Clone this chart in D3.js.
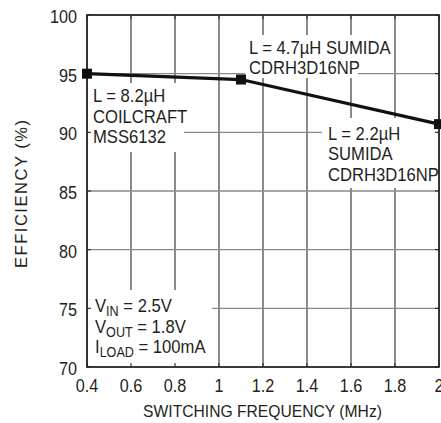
<!DOCTYPE html>
<html>
<head>
<meta charset="utf-8">
<script src="https://cdn.jsdelivr.net/npm/d3@7"></script>
<style>
  html, body { margin: 0; padding: 0; background: #fff; }
  svg { display: block; }
  text { font-family: "Liberation Sans", Arial, sans-serif; fill: #231f20; }
</style>
</head>
<body>
<div id="chart"></div>
<script>
// ---- data ----
const frequencies = [0.4, 1.1, 2.0];          // MHz
const efficiencies = [95.0, 94.5, 90.7];      // %
const xTickValues = [0.4, 0.6, 0.8, 1.0, 1.2, 1.4, 1.6, 1.8, 2.0];
const xTickLabels = ["0.4", "0.6", "0.8", "1", "1.2", "1.4", "1.6", "1.8", "2"];
const yTickValues = [70, 75, 80, 85, 90, 95, 100];
const yTickLabels = ["70", "75", "80", "85", "90", "95", "100"];
const xTitle = "SWITCHING FREQUENCY (MHz)";
const yTitle = "EFFICIENCY (%)";

// ---- layout ----
const W = 441, H = 423;
const L = 87, R = 439, T = 15, B = 367;
const SX = 0.9; // horizontal condensing of the font

const svg = d3.select("#chart").append("svg").attr("width", W).attr("height", H);
const x = d3.scaleLinear().domain([0.4, 2.0]).range([L, R]);
const y = d3.scaleLinear().domain([70, 100]).range([B, T]);

function stext(parent, px, py, str, size, anchor) {
  return parent.append("text")
    .attr("transform", `translate(${px},${py}) scale(${SX},1)`)
    .attr("font-size", size)
    .attr("text-anchor", anchor || "start")
    .text(str);
}

// grid
const grid = svg.append("g");
grid.selectAll("line.v").data(xTickValues).join("line")
  .attr("x1", d => x(d)).attr("x2", d => x(d)).attr("y1", T).attr("y2", B)
  .attr("stroke", "#2b2b2b").attr("stroke-width", 1.1);
grid.selectAll("line.h").data(yTickValues).join("line")
  .attr("x1", L).attr("x2", R).attr("y1", d => y(d)).attr("y2", d => y(d))
  .attr("stroke", "#8a8a8a").attr("stroke-width", 1.3);

// white knockout boxes behind annotations
const boxes = [
  [89, 83, 184, 152],
  [245, 35, 358, 78],
  [322, 118, 437, 188],
  [89, 290, 212, 366]
];
svg.append("g").selectAll("rect").data(boxes).join("rect")
  .attr("x", d => d[0]).attr("y", d => d[1])
  .attr("width", d => d[2] - d[0]).attr("height", d => d[3] - d[1])
  .attr("fill", "#fff");

// inner ticks on all sides
const tk = svg.append("g").attr("stroke", "#2b2b2b").attr("stroke-width", 1.1);
xTickValues.forEach(v => {
  tk.append("line").attr("x1", x(v)).attr("x2", x(v)).attr("y1", B).attr("y2", B - 4);
  tk.append("line").attr("x1", x(v)).attr("x2", x(v)).attr("y1", T).attr("y2", T + 4);
});
yTickValues.forEach(v => {
  tk.append("line").attr("x1", L).attr("x2", L + 4).attr("y1", y(v)).attr("y2", y(v));
  tk.append("line").attr("x1", R).attr("x2", R - 4).attr("y1", y(v)).attr("y2", y(v));
});

// frame
svg.append("rect").attr("x", L).attr("y", T).attr("width", R - L).attr("height", B - T)
  .attr("fill", "none").attr("stroke", "#231f20").attr("stroke-width", 1.6);

// data line
const line = d3.line().x((d, i) => x(frequencies[i])).y(d => y(d));
svg.append("path").datum(efficiencies).attr("d", line)
  .attr("fill", "none").attr("stroke", "#111").attr("stroke-width", 3.2);
svg.append("g").selectAll("rect").data(efficiencies).join("rect")
  .attr("x", (d, i) => x(frequencies[i]) - 5).attr("y", d => y(d) - 5)
  .attr("width", 10).attr("height", 10).attr("fill", "#111");

// tick labels
const tl = svg.append("g");
yTickValues.forEach((v, i) => stext(tl, 77, y(v) + 8, yTickLabels[i], 18, "end"));
xTickValues.forEach((v, i) => stext(tl, x(v), 392, xTickLabels[i], 18, "middle"));

// axis titles
stext(svg, 262.5, 417, xTitle, 17.4, "middle");
svg.append("text")
  .attr("transform", "translate(27,194) rotate(-90)")
  .attr("font-size", 16.5)
  .attr("text-anchor", "middle")
  .attr("textLength", 148).attr("lengthAdjust", "spacing")
  .text(yTitle);

// annotations
const ann = svg.append("g");
stext(ann, 93, 102, "L = 8.2\u00b5H", 18.5);
stext(ann, 93, 123, "COILCRAFT", 18.5);
stext(ann, 93, 143, "MSS6132", 18.5);

stext(ann, 249, 54, "L = 4.7\u00b5H SUMIDA", 18.5);
stext(ann, 249, 74, "CDRH3D16NP", 18.5);

stext(ann, 328, 140, "L = 2.2\u00b5H", 18.5);
stext(ann, 328, 160, "SUMIDA", 18.5);
stext(ann, 328, 181, "CDRH3D16NP", 18.5);

function subLine(py, main, sub, rest) {
  const t = ann.append("text")
    .attr("transform", `translate(95,${py}) scale(${SX},1)`)
    .attr("font-size", 18.5);
  t.append("tspan").text(main);
  t.append("tspan").attr("font-size", 14).attr("dy", 4).text(sub);
  t.append("tspan").attr("dy", -4).text(rest);
}
subLine(312, "V", "IN", " = 2.5V");
subLine(333, "V", "OUT", " = 1.8V");
subLine(353, "I", "LOAD", " = 100mA");
</script>
</body>
</html>
